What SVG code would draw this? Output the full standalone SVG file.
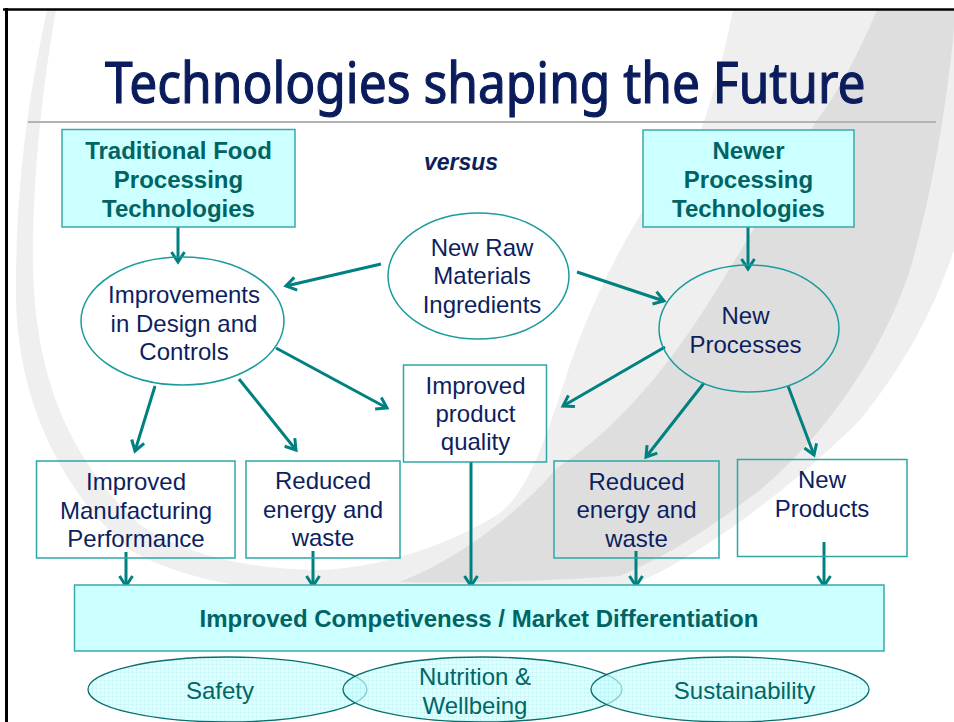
<svg xmlns="http://www.w3.org/2000/svg" width="954" height="722" viewBox="0 0 954 722">
<defs>
<style>
.lbl{font-family:"Liberation Sans",Arial,sans-serif;font-size:24px;fill:#0d1f5e;text-anchor:middle}
.hdr{font-family:"Liberation Sans",Arial,sans-serif;font-size:24px;font-weight:bold;fill:#006464;text-anchor:middle}
.goal{font-family:"Liberation Sans",Arial,sans-serif;font-size:24px;fill:#006666;text-anchor:middle}
.cyanbox{fill:#ccffff;stroke:#3aa9a9;stroke-width:1.5}
.box{fill:none;stroke:#2ea6a6;stroke-width:1.5}
.ell{fill:none;stroke:#1b9c9c;stroke-width:1.5}
.bell{fill:url(#grid);stroke:#0a6e6e;stroke-width:1.3}
.con{stroke:#008080;stroke-width:3;fill:none;marker-end:url(#arr)}
</style>
<marker id="arr" markerUnits="userSpaceOnUse" viewBox="-12 -9 14 18" refX="0" refY="0" markerWidth="14" markerHeight="18" orient="auto" overflow="visible">
<path d="M-10,-6.5 L0,0 L-10,6.5" fill="none" stroke="#008080" stroke-width="3" stroke-linejoin="miter"/>
</marker>
<pattern id="grid" patternUnits="userSpaceOnUse" width="4" height="4">
<rect width="4" height="4" fill="#ccffff" fill-opacity="0.65"/>
<path d="M0,0.5H4M0.5,0V4" stroke="#9fe0e0" stroke-width="0.6" stroke-opacity="0.35"/>
</pattern>
</defs>

<!-- background -->
<rect width="954" height="722" fill="#ffffff"/>
<g id="swoosh">
<path d="M47,10 C30,90 15,180 16,300 C18,400 60,490 130,550 C200,590 300,596 400,596 C480,596 560,594 620,590 C700,560 800,480 860,420 C900,370 930,320 954,250 L954,10 Z" fill="#efefef"/>
<path d="M56,10 C42,90 32,180 33,270 C36,380 70,460 140,525 C190,558 260,570 320,570 C380,568 450,545 500,513 C530,490 548,430 565,380 C590,300 640,200 700,133 C715,90 725,50 733,10 Z" fill="#ffffff"/>
<path d="M877,10 C860,50 840,90 817,120 C770,200 720,290 680,345 C640,400 600,440 557,468 C530,500 470,555 400,582 C480,584 560,580 620,576 C680,550 720,520 760,490 C820,440 880,360 910,270 C930,200 945,120 954,30 L954,10 Z" fill="#dedede"/>
</g>

<!-- frame -->
<line x1="3" y1="9.5" x2="954" y2="9.5" stroke="#000" stroke-width="2.5"/>
<line x1="6.5" y1="8" x2="6.5" y2="722" stroke="#000" stroke-width="3"/>

<!-- title -->
<g id="title">
<text transform="translate(105,103) scale(0.9,1)" x="0" y="0" textLength="845" lengthAdjust="spacingAndGlyphs" font-family="'Noto Sans','DejaVu Sans',sans-serif" font-size="56" fill="#0a1c5c" stroke="#0a1c5c" stroke-width="1.2">Technologies shaping the Future</text>
<line x1="28" y1="122" x2="936" y2="122" stroke="#b3b3b3" stroke-width="2"/>
</g>

<!-- connectors -->
<g id="connectors">
<line class="con" x1="178" y1="227" x2="178" y2="262"/>
<line class="con" x1="748" y1="227" x2="748" y2="269"/>
<line class="con" x1="381" y1="264" x2="286" y2="286"/>
<line class="con" x1="577" y1="272" x2="664" y2="301"/>
<line class="con" x1="276" y1="348" x2="387" y2="408"/>
<line class="con" x1="665" y1="347" x2="563" y2="406"/>
<line class="con" x1="155" y1="386" x2="135" y2="451"/>
<line class="con" x1="239" y1="379" x2="296" y2="450"/>
<line class="con" x1="704" y1="383" x2="646" y2="457"/>
<line class="con" x1="788" y1="386" x2="814" y2="455"/>
<line class="con" x1="126" y1="552" x2="126" y2="586"/>
<line class="con" x1="313" y1="551" x2="313" y2="586"/>
<line class="con" x1="471" y1="462" x2="471" y2="586"/>
<line class="con" x1="636" y1="551" x2="636" y2="586"/>
<line class="con" x1="824" y1="542" x2="824" y2="586"/>
</g>

<!-- nodes -->
<g id="traditional">
<rect class="cyanbox" x="62" y="129.5" width="233" height="97.5"/>
<text class="hdr" x="178.5" y="159">Traditional Food</text>
<text class="hdr" x="178.5" y="188">Processing</text>
<text class="hdr" x="178.5" y="217">Technologies</text>
</g>
<g id="versus">
<text x="461" y="170" font-family="'Liberation Sans',Arial,sans-serif" font-size="23" font-weight="bold" font-style="italic" fill="#0d1f5e" text-anchor="middle">versus</text>
</g>
<g id="newer">
<rect class="cyanbox" x="643" y="130" width="211" height="97"/>
<text class="hdr" x="748.5" y="159">Newer</text>
<text class="hdr" x="748.5" y="188">Processing</text>
<text class="hdr" x="748.5" y="217">Technologies</text>
</g>
<g id="rawmaterials">
<ellipse class="ell" cx="478.5" cy="276" rx="90.5" ry="63"/>
<text class="lbl" x="482" y="255.5">New Raw</text>
<text class="lbl" x="482" y="284">Materials</text>
<text class="lbl" x="482" y="312.5">Ingredients</text>
</g>
<g id="improvements">
<ellipse class="ell" cx="182.5" cy="321" rx="101.5" ry="64"/>
<text class="lbl" x="184" y="303">Improvements</text>
<text class="lbl" x="184" y="331.5">in Design and</text>
<text class="lbl" x="184" y="360">Controls</text>
</g>
<g id="newprocesses">
<ellipse class="ell" cx="749" cy="328.5" rx="90" ry="63.5"/>
<text class="lbl" x="745.5" y="324">New</text>
<text class="lbl" x="745.5" y="352.5">Processes</text>
</g>
<g id="quality">
<rect class="box" x="403.5" y="365" width="143" height="97"/>
<text class="lbl" x="475.5" y="394">Improved</text>
<text class="lbl" x="475.5" y="422">product</text>
<text class="lbl" x="475.5" y="450">quality</text>
</g>
<g id="manufacturing">
<rect class="box" x="36.5" y="461" width="198.5" height="97"/>
<text class="lbl" x="136" y="490">Improved</text>
<text class="lbl" x="136" y="518.5">Manufacturing</text>
<text class="lbl" x="136" y="547">Performance</text>
</g>
<g id="reduced1">
<rect class="box" x="246" y="461" width="154" height="97"/>
<text class="lbl" x="323" y="488.5">Reduced</text>
<text class="lbl" x="323" y="517.5">energy and</text>
<text class="lbl" x="323" y="546">waste</text>
</g>
<g id="reduced2">
<rect class="box" x="554" y="461" width="165" height="97"/>
<text class="lbl" x="636.5" y="489.5">Reduced</text>
<text class="lbl" x="636.5" y="518">energy and</text>
<text class="lbl" x="636.5" y="546.5">waste</text>
</g>
<g id="newproducts">
<rect class="box" x="737.5" y="459.5" width="169.5" height="97"/>
<text class="lbl" x="822" y="488">New</text>
<text class="lbl" x="822" y="516.5">Products</text>
</g>
<g id="competitiveness">
<rect class="cyanbox" x="74.5" y="585" width="809.5" height="66"/>
<text class="hdr" x="479" y="627">Improved Competiveness / Market Differentiation</text>
</g>
<g id="safety">
<ellipse class="bell" cx="227.5" cy="689.5" rx="139.5" ry="32.5"/>
<text class="goal" x="220" y="699">Safety</text>
</g>
<g id="nutrition">
<ellipse class="bell" cx="482.5" cy="689.5" rx="139.5" ry="32.5"/>
<text class="goal" x="475" y="685">Nutrition &amp;</text>
<text class="goal" x="475" y="713.5">Wellbeing</text>
</g>
<g id="sustainability">
<ellipse class="bell" cx="730" cy="689.5" rx="139" ry="32.5"/>
<text class="goal" x="744.5" y="699">Sustainability</text>
</g>
</svg>
